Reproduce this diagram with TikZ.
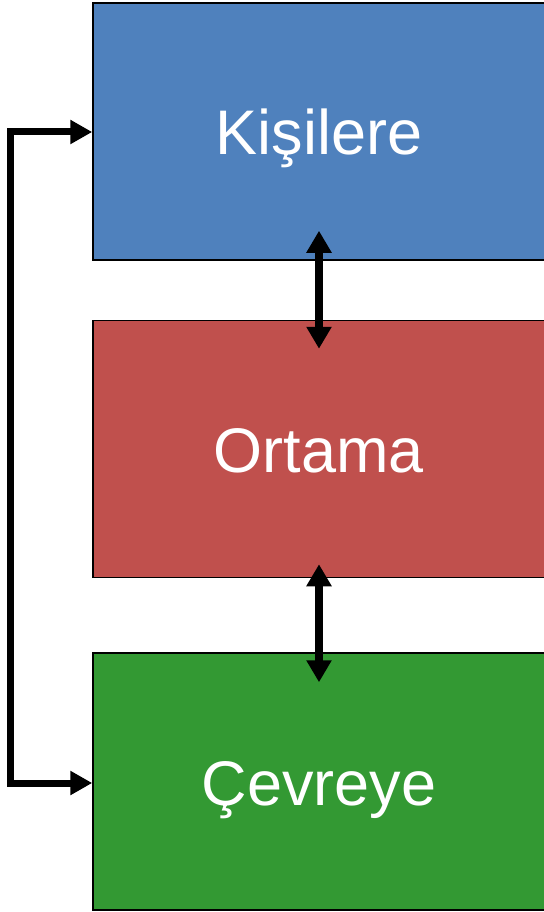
\documentclass[tikz,border=0pt]{standalone}
\usepackage{fontspec}
\setmainfont{Liberation Sans}
\usetikzlibrary{arrows.meta}
\definecolor{boxblue}{RGB}{79,129,189}
\definecolor{boxred}{RGB}{192,80,77}
\definecolor{boxgreen}{RGB}{51,153,51}
\begin{document}
\begin{tikzpicture}[x=1pt,y=-1pt,
  panel/.style={draw=black,line width=1.5pt,minimum width=452pt,minimum height=257pt,
    inner sep=0pt,text height=47pt,text depth=0pt,text=white,font=\fontsize{63}{70}\selectfont},
  biarrow/.style={line width=8pt,{Triangle[width=24pt,length=22pt]}-{Triangle[width=24pt,length=22pt]}},
  sidearrow/.style={line width=7pt,{Triangle[width=23pt,length=22pt]}-{Triangle[width=23pt,length=22pt]}}]
\useasboundingbox (0,0) rectangle (543,912);
\fill[white] (0,0) rectangle (543,912);
\node[panel,fill=boxblue] (k) at (319,131.5) {Kişilere};
\node[panel,fill=boxred] (o) at (319,449) {Ortama};
\node[panel,fill=boxgreen] (c) at (319,781.5) {Çevreye};
\coordinate (ka) at ([yshift=30pt]k.south);
\coordinate (ob) at ([yshift=-29pt]o.north);
\coordinate (oa) at ([yshift=14pt]o.south);
\coordinate (cb) at ([yshift=-30pt]c.north);
\draw[biarrow] (ka) -- (ob);
\draw[biarrow] (oa) -- (cb);
\draw[sidearrow] ([yshift=-0.5pt]k.west) -- ++(-81.5,0) |- ([yshift=-1.5pt]c.west);
\end{tikzpicture}
\end{document}
